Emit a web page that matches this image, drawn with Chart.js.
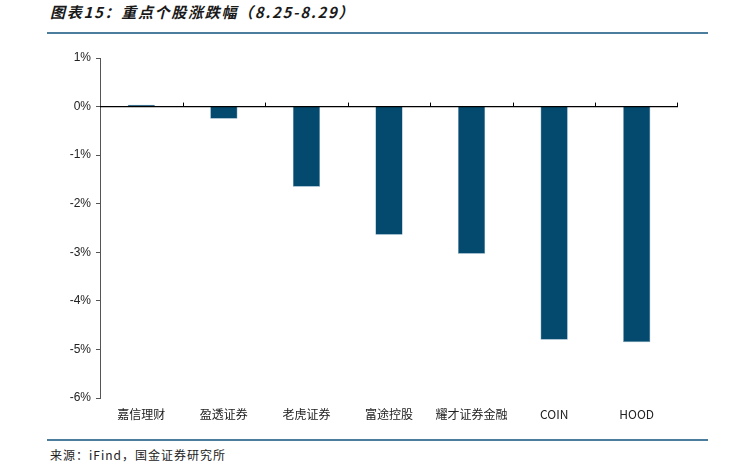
<!DOCTYPE html>
<html>
<head>
<meta charset="utf-8">
<script src="https://cdn.jsdelivr.net/npm/chart.js@4/dist/chart.umd.min.js"></script>
<style>
  body { margin: 0; background: #fff; width: 730px; height: 474px; position: relative; overflow: hidden; }
  .title { position: absolute; left: 50px; top: 1px; font: italic 600 15px "Noto Sans CJK SC", sans-serif; letter-spacing: 1.7px; color: #1a1a1a; }
  .rule { position: absolute; left: 47px; width: 661px; height: 2px; background: #4d7d9c; }
  .source { position: absolute; left: 50px; top: 446px; font: 12px "Noto Sans CJK SC", sans-serif; letter-spacing: 1px; color: #222; }
  #wrap { position: absolute; left: 0; top: 0; width: 730px; height: 474px; }
</style>
</head>
<body>
<div class="title">图表15：重点个股涨跌幅（8.25-8.29）</div>
<div class="rule" style="top:32px"></div>
<div class="rule" style="top:439px"></div>
<div class="source">来源：iFind，国金证券研究所</div>
<div id="wrap"><canvas id="chart"></canvas></div>
<script>
// Data
const stocks = ['嘉信理财', '盈透证券', '老虎证券', '富途控股', '耀才证券金融', 'COIN', 'HOOD'];
const changes = [0.04, -0.25, -1.65, -2.64, -3.03, -4.80, -4.85];
const yMin = -6;
const yMax = 1;

// Zero line + category boundary ticks, drawn from the scales
const zeroAxis = {
    id: 'zeroAxis',
    afterDatasetsDraw(chart) {
        const { ctx, chartArea, scales: { x, y } } = chart;
        const y0 = y.getPixelForValue(0);
        ctx.save();
        ctx.strokeStyle = '#000';
        ctx.lineWidth = 1.2;
        ctx.beginPath();
        ctx.moveTo(chartArea.left, y0);
        ctx.lineTo(chartArea.right, y0);
        ctx.stroke();
        ctx.lineWidth = 1;
        for (let i = 1; i <= stocks.length; i++) {
            const px = Math.round((x.getPixelForValue(i - 1) + x.getPixelForValue(i)) / 2) + 0.5;
            const xx = i === stocks.length ? chartArea.right - 0.5 : px;
            ctx.beginPath();
            ctx.moveTo(xx, y0);
            ctx.lineTo(xx, y0 - 4);
            ctx.stroke();
        }
        ctx.restore();
    }
};

new Chart(document.getElementById('chart'), {
    type: 'bar',
    data: {
        labels: stocks,
        datasets: [{
            data: changes,
            backgroundColor: '#034a6e',
            borderColor: '#6e98b3',
            borderWidth: 0.6,
            categoryPercentage: 1,
            barPercentage: 0.33
        }]
    },
    options: {
        responsive: true,
        maintainAspectRatio: false,
        animation: false,
        layout: { padding: { top: 58, right: 52, bottom: 46, left: 40 } },
        plugins: { legend: { display: false }, tooltip: { enabled: false } },
        scales: {
            x: {
                grid: { display: false },
                border: { display: false },
                ticks: {
                    color: '#222',
                    font: { family: 'Noto Sans CJK SC', size: 12 },
                    padding: 1,
                    maxRotation: 0,
                    autoSkip: false
                },
                afterFit(scale) { scale.height = 30; }
            },
            y: {
                min: yMin,
                max: yMax,
                grid: { display: true, drawOnChartArea: false, drawTicks: true, tickLength: 4, color: '#555' },
                border: { display: true, color: '#555', width: 1 },
                ticks: {
                    stepSize: 1,
                    color: '#222',
                    font: { family: 'Liberation Sans', size: 12 },
                    padding: 5,
                    callback: v => v + '%'
                },
                afterFit(scale) { scale.width = 60; }
            }
        }
    },
    plugins: [zeroAxis]
});
</script>
</body>
</html>
